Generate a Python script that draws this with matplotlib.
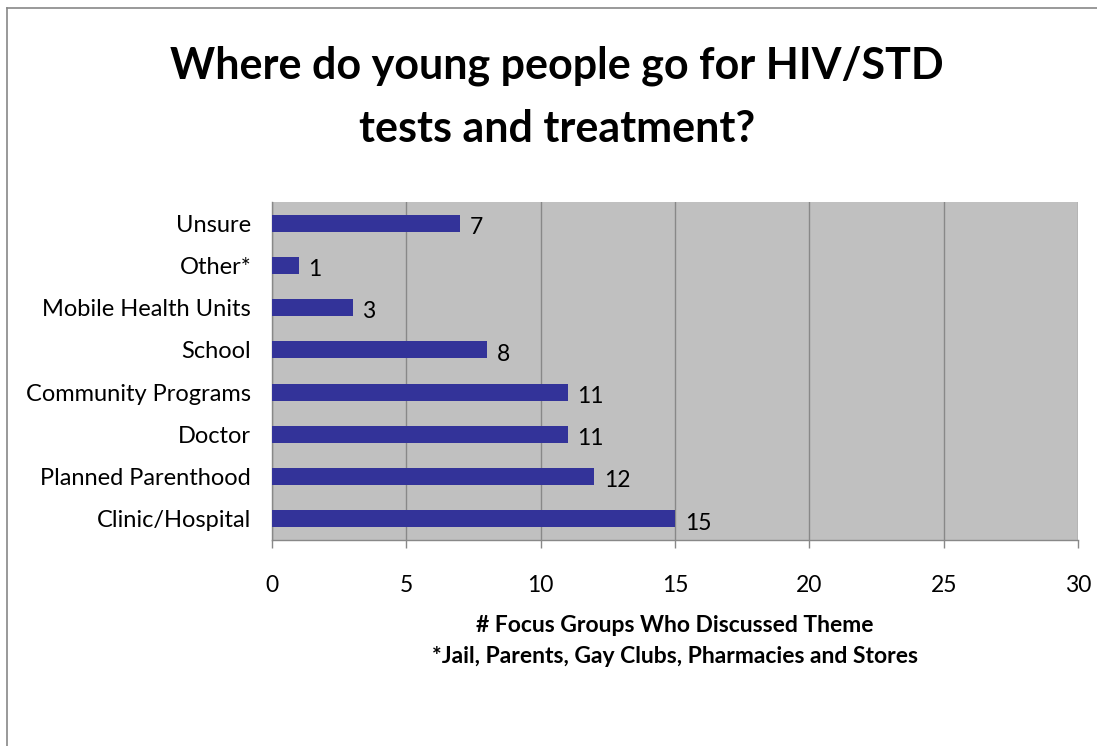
import matplotlib
matplotlib.use("Agg")
import matplotlib.pyplot as plt
from matplotlib.lines import Line2D

categories = ["Clinic/Hospital", "Planned Parenthood", "Doctor", "Community Programs",
              "School", "Mobile Health Units", "Other*", "Unsure"]
values = [15, 12, 11, 11, 8, 3, 1, 7]
xticks = [0, 5, 10, 15, 20, 25, 30]

plt.rcParams['font.family'] = ['Lato', 'DejaVu Sans']

W, H = 1097, 746
fig = plt.figure(figsize=(W / 100, H / 100), dpi=100)
fig.patch.set_facecolor('white')
fig.patch.set_edgecolor('white')
fig.patch.set_linewidth(0)

# figure border (only left and top visible)
fig.add_artist(Line2D([7 / W, 7 / W], [0, 1 - 8 / H], transform=fig.transFigure,
                      color='#888888', linewidth=1.2))
fig.add_artist(Line2D([7 / W, 1.01], [1 - 8 / H, 1 - 8 / H], transform=fig.transFigure,
                      color='#888888', linewidth=1.2))

ax = fig.add_axes([272 / W, 1 - 540 / H, (1078 - 272) / W, (540 - 202) / H])
ax.set_facecolor('#c0c0c0')
ypos = list(range(len(categories)))
ax.barh(ypos, values, height=0.4, color='#333399', zorder=3)
ax.set_xlim(0, 30)
ax.set_ylim(-0.5, len(categories) - 0.5)
ax.set_xticks(xticks)
ax.set_xticklabels([str(t) for t in xticks], fontsize=16.5)
ax.set_yticks(ypos)
ax.set_yticklabels(categories, fontsize=17)
ax.tick_params(axis='y', length=0, pad=15)
ax.tick_params(axis='x', length=6, direction='out', color='#888888', width=1, pad=19)
ax.grid(axis='x', color='#888888', linewidth=1, zorder=1)
for s in ['top', 'right']:
    ax.spines[s].set_visible(False)
for s in ['left', 'bottom']:
    ax.spines[s].set_color('#888888')
    ax.spines[s].set_linewidth(1)

for y, v in zip(ypos, values):
    ax.annotate(str(v), (v, y), xytext=(7, -3), textcoords='offset points',
                ha='left', va='center', fontsize=16.5, zorder=4)

ax.set_xlabel("# Focus Groups Who Discussed Theme\n*Jail, Parents, Gay Clubs, Pharmacies and Stores",
              fontsize=16.5, fontweight='bold', labelpad=14, linespacing=1.6)

fig.text(557 / W, 1 - 97 / H, "Where do young people go for HIV/STD\ntests and treatment?",
         ha='center', va='center', fontsize=31, fontweight='bold', linespacing=1.7)

fig.savefig("out.png", dpi=100, facecolor='white', edgecolor='none')
